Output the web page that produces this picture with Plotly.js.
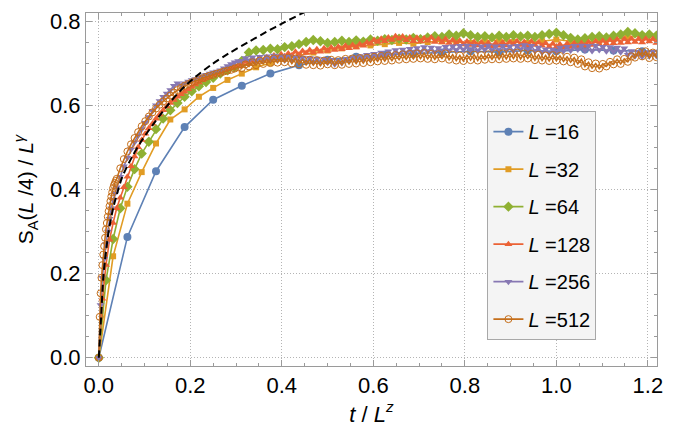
<!DOCTYPE html>
<html><head><meta charset="utf-8">
<script src="https://cdn.plot.ly/plotly-3.0.1.min.js"></script>
<style>html,body{margin:0;padding:0;background:#fff}#chart{width:676px;height:430px}</style>
</head><body><div id="chart"></div>
<script>
// System sizes and legend labels
const sizes = [16, 32, 64, 128, 256, 512];
const legendNames = ['<i>L</i> =16', '<i>L</i> =32', '<i>L</i> =64', '<i>L</i> =128', '<i>L</i> =256', '<i>L</i> =512'];

// tick values
const xTicks = [0, 0.2, 0.4, 0.6, 0.8, 1.0, 1.2];
const yTicks = [0, 0.2, 0.4, 0.6, 0.8];

// L = 16, sampled every 1/16 in t/L^z
const y16 = [0, 0.287, 0.443, 0.548, 0.613, 0.646, 0.675, 0.695, 0.708, 0.715, 0.72, 0.722, 0.725, 0.728, 0.726, 0.73, 0.728, 0.732, 0.73, 0.728, 0.73];

// L = 32, every 1/32
const y32 = [0, 0.241, 0.366, 0.441, 0.509, 0.566, 0.59, 0.62, 0.641, 0.66, 0.675, 0.69, 0.70, 0.71, 0.718, 0.725, 0.73, 0.735, 0.74, 0.742, 0.745, 0.748, 0.746, 0.75, 0.752, 0.75, 0.748, 0.752, 0.755, 0.75, 0.748, 0.752, 0.756, 0.752, 0.75, 0.753, 0.757, 0.762, 0.765, 0.763];

// L = 64, every 1/64
const y64 = [0, 0.184, 0.282, 0.355, 0.406, 0.448, 0.485, 0.513, 0.543, 0.568, 0.588, 0.605, 0.62, 0.633, 0.645, 0.655, 0.665, 0.675, 0.683, 0.69, 0.705, 0.725, 0.73, 0.731, 0.734, 0.733, 0.738, 0.74,
  0.745, 0.75, 0.755, 0.752, 0.748, 0.75, 0.753, 0.75, 0.754, 0.751, 0.756, 0.753, 0.757, 0.755, 0.758, 0.756, 0.76, 0.757, 0.761, 0.764, 0.762, 0.768, 0.765, 0.771, 0.766, 0.762, 0.764, 0.761, 0.765, 0.762, 0.766, 0.763, 0.765, 0.762, 0.766, 0.769, 0.772, 0.766, 0.76, 0.756, 0.759, 0.762, 0.764, 0.761, 0.765, 0.768, 0.774, 0.771, 0.766, 0.768, 0.765];

// L = 128, every 1/128
const y128 = [0, 0.14, 0.22, 0.28, 0.32, 0.355, 0.38, 0.405,
  0.43, 0.455, 0.478, 0.5, 0.517, 0.532, 0.545, 0.556,
  0.568, 0.578, 0.588, 0.597, 0.605, 0.612, 0.62, 0.626,
  0.632, 0.638, 0.644, 0.649, 0.654, 0.659, 0.664, 0.668,
  0.672, 0.676, 0.679, 0.683, 0.686, 0.689, 0.693, 0.695,
  0.698, 0.703, 0.699, 0.707, 0.703, 0.712, 0.706, 0.714,
  0.71, 0.718, 0.712, 0.721, 0.716, 0.723, 0.718, 0.727,
  0.72, 0.729, 0.724, 0.731, 0.725, 0.733, 0.727, 0.735,
  0.729, 0.737, 0.731, 0.739, 0.733, 0.741, 0.735, 0.743,
  0.737, 0.745, 0.741, 0.749, 0.746, 0.755, 0.75, 0.758,
  0.752, 0.761, 0.755, 0.764, 0.758, 0.763, 0.754, 0.761,
  0.752, 0.76, 0.751, 0.759, 0.753, 0.761, 0.75, 0.757,
  0.749, 0.757, 0.748, 0.755, 0.746, 0.753, 0.744, 0.751,
  0.743, 0.75, 0.742, 0.749, 0.741, 0.748, 0.74, 0.747,
  0.741, 0.749, 0.742, 0.75, 0.744, 0.752, 0.743, 0.75,
  0.742, 0.751, 0.743, 0.749, 0.741, 0.747, 0.739, 0.746,
  0.738, 0.745, 0.737, 0.746, 0.738, 0.747, 0.74, 0.748,
  0.741, 0.75, 0.743, 0.752, 0.745, 0.753, 0.746, 0.755,
  0.747, 0.756, 0.748, 0.757, 0.749, 0.758, 0.75, 0.757,
  0.749, 0.758, 0.751, 0.757, 0.748, 0.756];

// L = 256: first points every 1/256, then every 1/128 starting at 5/128
const y256Early = [0, 0.125, 0.19, 0.235, 0.27, 0.30, 0.33, 0.355, 0.375, 0.39];
const y256 = [0.405, 0.43, 0.455,
  0.475, 0.495, 0.512, 0.528, 0.543, 0.558, 0.572, 0.586,
  0.6, 0.61, 0.62, 0.628, 0.636, 0.646, 0.652, 0.648,
  0.652, 0.656, 0.66, 0.662, 0.666, 0.669, 0.672, 0.675,
  0.678, 0.68, 0.683, 0.688, 0.693, 0.698, 0.702, 0.705,
  0.705, 0.712, 0.707, 0.714, 0.706, 0.715, 0.708, 0.716,
  0.709, 0.718, 0.71, 0.717, 0.707, 0.716, 0.706, 0.714,
  0.704, 0.713, 0.703, 0.712, 0.702, 0.711, 0.7, 0.71,
  0.701, 0.708, 0.697, 0.706, 0.7, 0.71, 0.705, 0.714,
  0.707, 0.717, 0.71, 0.72, 0.713, 0.722, 0.715, 0.725,
  0.718, 0.728, 0.72, 0.731, 0.722, 0.732, 0.725, 0.734,
  0.726, 0.736, 0.727, 0.738, 0.728, 0.737, 0.726, 0.736,
  0.728, 0.739, 0.73, 0.74, 0.731, 0.741, 0.732, 0.742,
  0.731, 0.741, 0.73, 0.74, 0.732, 0.742, 0.731, 0.74,
  0.73, 0.741, 0.731, 0.74, 0.729, 0.741, 0.733, 0.743,
  0.732, 0.741, 0.729, 0.737, 0.725, 0.733, 0.724, 0.732,
  0.726, 0.737, 0.729, 0.739, 0.73, 0.741, 0.732, 0.742,
  0.73, 0.741, 0.729, 0.742, 0.731, 0.739, 0.728, 0.738,
  0.727, 0.737, 0.726, 0.735, 0.72, 0.729, 0.716, 0.727,
  0.715, 0.726, 0.716, 0.727, 0.717, 0.728];

// L = 512: first points every 1/512, then every 1/128 starting at 5/128
const y512Early = [0, 0.097, 0.153, 0.19, 0.22, 0.245, 0.265, 0.285, 0.305, 0.32, 0.335, 0.348, 0.36, 0.372, 0.383, 0.393, 0.403, 0.41, 0.415, 0.42];
const y512 = [0.425, 0.45, 0.472,
  0.49, 0.507, 0.522, 0.536, 0.55, 0.562, 0.573, 0.583,
  0.592, 0.601, 0.609, 0.616, 0.623, 0.63, 0.636, 0.641,
  0.646, 0.65, 0.654, 0.657, 0.661, 0.664, 0.667, 0.67,
  0.672, 0.675, 0.677, 0.68, 0.682, 0.684, 0.687, 0.69,
  0.688, 0.697, 0.692, 0.702, 0.695, 0.706, 0.698, 0.709,
  0.7, 0.711, 0.701, 0.712, 0.702, 0.713, 0.699, 0.711,
  0.697, 0.709, 0.696, 0.708, 0.695, 0.707, 0.694, 0.706,
  0.697, 0.708, 0.695, 0.707, 0.696, 0.71, 0.698, 0.711,
  0.699, 0.712, 0.7, 0.713, 0.702, 0.715, 0.704, 0.717,
  0.705, 0.718, 0.706, 0.719, 0.708, 0.721, 0.709, 0.722,
  0.71, 0.723, 0.711, 0.724, 0.71, 0.722, 0.709, 0.721,
  0.711, 0.723, 0.708, 0.72, 0.706, 0.718, 0.705, 0.719,
  0.707, 0.72, 0.706, 0.719, 0.708, 0.721, 0.709, 0.722,
  0.709, 0.723, 0.71, 0.724, 0.711, 0.725, 0.71, 0.723,
  0.711, 0.722, 0.707, 0.72, 0.706, 0.718, 0.705, 0.719,
  0.706, 0.717, 0.704, 0.715, 0.702, 0.713, 0.698, 0.709,
  0.692, 0.702, 0.688, 0.699, 0.687, 0.698, 0.692, 0.703,
  0.697, 0.709, 0.698, 0.71, 0.703, 0.716, 0.713, 0.727,
  0.716, 0.728, 0.712, 0.725, 0.714, 0.726];

// Dashed reference curve
const xCurve = [0, 0.0055, 0.0105, 0.0215, 0.032, 0.04, 0.0507, 0.0726, 0.0944, 0.12, 0.149, 0.178, 0.211, 0.247, 0.284, 0.327, 0.366, 0.404, 0.444, 0.46];
const yCurve = [0, 0.105, 0.2, 0.3, 0.358, 0.39, 0.428, 0.477, 0.517, 0.556, 0.598, 0.634, 0.667, 0.697, 0.723, 0.75, 0.774, 0.796, 0.818, 0.826];

const colors = ['#5e81b5', '#e19c24', '#8fb032', '#eb6235', '#8778b3', '#c56e1a'];
const symbols = ['circle', 'square', 'diamond', 'triangle-up', 'triangle-down', 'circle-open'];
const msizes = [8, 6, 8, 7, 7, 7];

const xs = [
  y16.map((_, k) => k / 16),
  y32.map((_, k) => k / 32),
  y64.map((_, k) => k / 64),
  y128.map((_, k) => k / 128),
  y256Early.map((_, k) => k / 256).concat(y256.map((_, k) => (k + 5) / 128)),
  y512Early.map((_, k) => k / 512).concat(y512.map((_, k) => (k + 5) / 128))
];
const ys = [y16, y32, y64, y128, y256Early.concat(y256), y512Early.concat(y512)];

const traces = sizes.map((L, i) => ({
  type: 'scatter', mode: 'lines+markers',
  x: xs[i], y: ys[i], name: legendNames[i], legendgroup: 'g' + L,
  line: {color: colors[i], width: 1.6},
  marker: {symbol: symbols[i], size: msizes[i], color: colors[i], line: {color: colors[i], width: i === 5 ? 1 : 0}},
  cliponaxis: true
}));
traces.push({
  type: 'scatter', mode: 'lines', x: xCurve, y: yCurve, showlegend: false,
  line: {color: '#000', width: 2, dash: '7px,4px', shape: 'spline', smoothing: 0.8}
});

const FONT = 'Liberation Sans, Arial, Helvetica, sans-serif';
const axisCommon = {
  showline: true, linecolor: '#9a9a9a', linewidth: 1, mirror: 'allticks',
  ticks: 'inside', ticklen: 6, tickcolor: '#9a9a9a', tickwidth: 1,
  showgrid: true, gridcolor: '#b4b4b4', griddash: '1px,2px', gridwidth: 1,
  zeroline: false, tickformat: '.1f',
  tickfont: {family: FONT, size: 22, color: '#000'},
  minor: {dtick: 0.05, tick0: 0, ticks: 'inside', ticklen: 3, tickcolor: '#9a9a9a', showgrid: false}
};

const layout = {
  width: 676, height: 430,
  margin: {l: 86, r: 19, t: 13, b: 64},
  paper_bgcolor: '#fff', plot_bgcolor: '#fff',
  font: {family: FONT, size: 20, color: '#000'},
  xaxis: Object.assign({}, axisCommon, {
    range: [-0.028, 1.22], tickvals: xTicks,
    title: {text: '<i>t</i> / <i>L</i><sup><i>z</i></sup>', font: {family: FONT, size: 22}, standoff: 8}
  }),
  yaxis: Object.assign({}, axisCommon, {
    range: [-0.0197, 0.819], tickvals: yTicks,
    title: {text: 'S<sub>A</sub>(<i>L</i> /4) / <i>L</i><sup><i>γ</i></sup>', font: {family: FONT, size: 21}, standoff: 10}
  }),
  legend: {
    x: 0.703, y: 0.722, xanchor: 'left', yanchor: 'top',
    bgcolor: '#f4f4f4', bordercolor: '#a8a8a8', borderwidth: 1,
    font: {family: FONT, size: 20, color: '#000'},
    traceorder: 'grouped', tracegroupgap: 8.5, itemsizing: 'trace'
  },
  showlegend: true
};

Plotly.newPlot('chart', traces, layout, {staticPlot: true, displayModeBar: false});
</script>
</body></html>
